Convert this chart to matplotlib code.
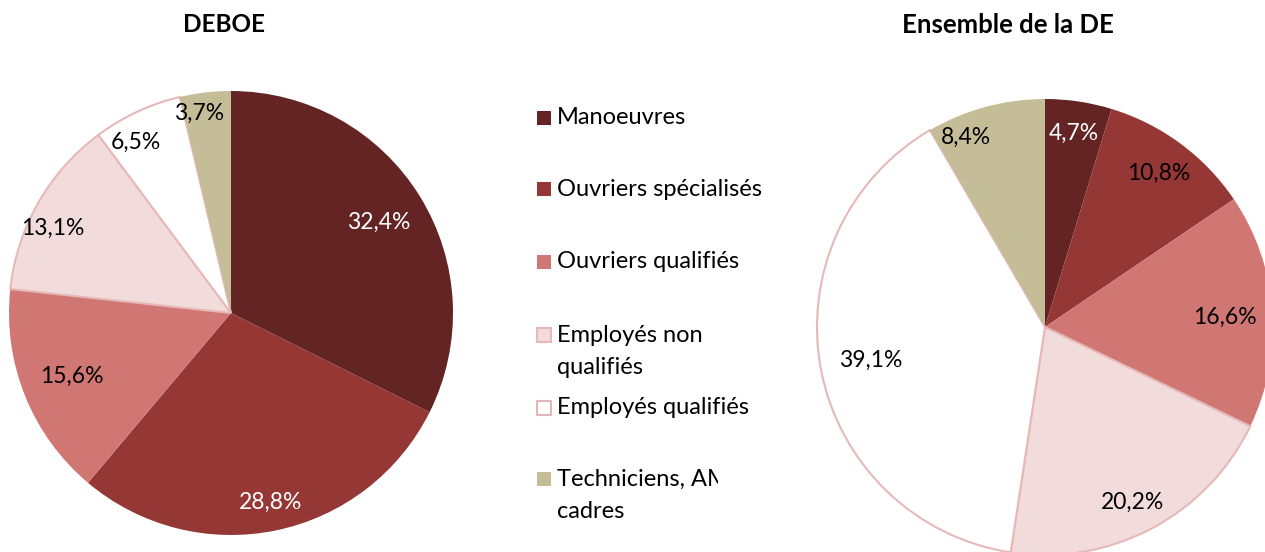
import matplotlib
matplotlib.use("Agg")
import matplotlib.pyplot as plt
from matplotlib.patches import Rectangle
from matplotlib.transforms import Bbox, TransformedBbox
import numpy as np

plt.rcParams['font.family'] = ['Lato', 'DejaVu Sans']

categories = ["Manoeuvres", "Ouvriers spécialisés", "Ouvriers qualifiés",
              "Employés non qualifiés", "Employés qualifiés", "Techniciens, AM cadres"]
legend_lines = [["Manoeuvres"], ["Ouvriers spécialisés"], ["Ouvriers qualifiés"],
                ["Employés non", "qualifiés"], ["Employés qualifiés"], ["Techniciens, AM", "cadres"]]
deboe = [32.4, 28.8, 15.6, 13.1, 6.5, 3.7]
ensemble = [4.7, 10.8, 16.6, 20.2, 39.1, 8.4]
titles = ["DEBOE", "Ensemble de la DE"]

colors = ["#632423", "#953735", "#D07774", "#F2DCDB", "#FFFFFF", "#C4BD97"]
edge_pink = "#E6B9B8"
edges = [None, None, None, edge_pink, edge_pink, None]
text_colors_deboe = ["white", "white", "black", "black", "black", "black"]
text_colors_ens = ["white", "black", "black", "black", "black", "black"]
dist_deboe = [0.78, 0.87, 0.77, 0.89, 0.88, 0.91]
dist_ens = [0.86, 0.84, 0.79, 0.86, 0.78, 0.90]
angle_shift_deboe = [0, 0, 0, 4.5, 4, 2.5]
angle_shift_ens = [0, 0, -1, -1.3, 0, 7.5]

W, H = 1265, 552
fig = plt.figure(figsize=(W / 100, H / 100), dpi=100)

def add_pie(cx, cy, r, values, tcolors, dists, shifts):
    ax = fig.add_axes([(cx - r) / W, (H - cy - r) / H, 2 * r / W, 2 * r / H])
    wedges, _ = ax.pie(values, colors=colors, startangle=90, counterclock=False,
                       radius=1.0, wedgeprops=dict(linewidth=0))
    for w, e in zip(wedges, edges):
        if e is not None:
            w.set_edgecolor(e)
            w.set_linewidth(1.5)
    for w, v, tc, d, s in zip(wedges, values, tcolors, dists, shifts):
        ang = np.deg2rad((w.theta1 + w.theta2) / 2 + s)
        ax.text(d * np.cos(ang), d * np.sin(ang), f"{v:.1f}%".replace(".", ","),
                ha="center", va="center", color=tc, fontsize=16.5)
    ax.set_xlim(-1, 1)
    ax.set_ylim(-1, 1)
    ax.set_aspect("equal")
    ax.axis("off")
    return ax

add_pie(231, 313, 222, deboe, text_colors_deboe, dist_deboe, angle_shift_deboe)
add_pie(1045, 327, 228, ensemble, text_colors_ens, dist_ens, angle_shift_ens)

fig.text(224 / W, 1 - 25 / H, titles[0], ha="center", va="center", fontsize=17.5, fontweight="bold")
fig.text(1008 / W, 1 - 25 / H, titles[1], ha="center", va="center", fontsize=18.5, fontweight="bold")

# legend drawn manually; the last entry is clipped on the right like the original
lx0, lx1 = 520, 800
lax = fig.add_axes([lx0 / W, 0, (lx1 - lx0) / W, 1])
lax.set_xlim(lx0, lx1)
lax.set_ylim(H, 0)
lax.axis("off")
clip_box = TransformedBbox(Bbox([[0, 0], [718 / W, 1]]), fig.transFigure)
row_y = [118, 189, 262, 335, 408, 479]
line_gap = 33
for y, lines, c, e in zip(row_y, legend_lines, colors, edges):
    lax.add_patch(Rectangle((536.5, y - 7), 14, 14, facecolor=c,
                            edgecolor=e if e is not None else c, linewidth=1.5 if e else 0))
    for k, t in enumerate(lines):
        tx = lax.text(557, y + k * line_gap, t, ha="left", va="center", fontsize=17)
        if y == row_y[-1]:
            tx.set_clip_on(True)
            tx.set_clip_box(clip_box)

fig.savefig("out.png", dpi=100, facecolor="white")
